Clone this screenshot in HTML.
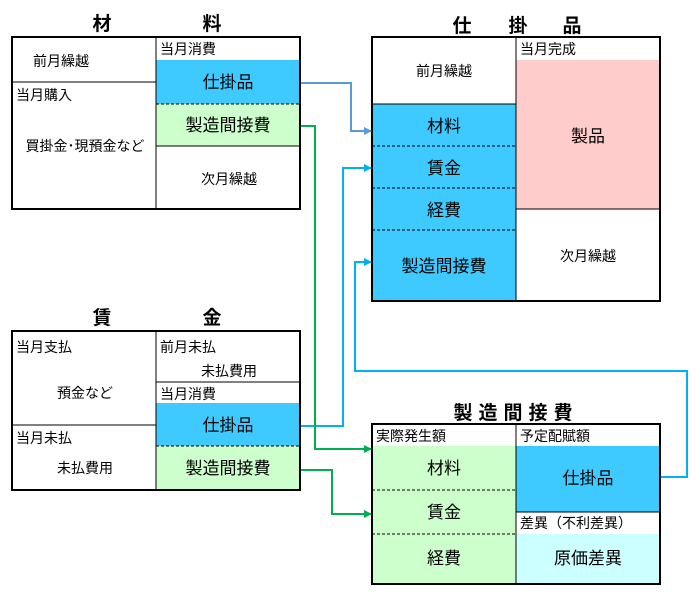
<!DOCTYPE html>
<html><head><meta charset="utf-8"><style>
body{margin:0;background:#fff;}
svg{display:block;}
text{font-family:"Liberation Sans","Noto Sans CJK JP",sans-serif;fill:#000;}
.t{font-size:14px;}
.m{font-size:17px;text-anchor:middle;}
.h{font-size:19px;font-weight:bold;text-anchor:middle;}
</style></head><body>
<svg width="698" height="594" viewBox="0 0 698 594">
<defs>
<marker id="a1" markerWidth="8" markerHeight="8" refX="7" refY="4" orient="auto" markerUnits="userSpaceOnUse"><path d="M0,0 L8,4 L0,8z" fill="#5b9bd5"/></marker>
<marker id="a2" markerWidth="8" markerHeight="8" refX="7" refY="4" orient="auto" markerUnits="userSpaceOnUse"><path d="M0,0 L8,4 L0,8z" fill="#00b0f0"/></marker>
<marker id="a3" markerWidth="8" markerHeight="8" refX="7" refY="4" orient="auto" markerUnits="userSpaceOnUse"><path d="M0,0 L8,4 L0,8z" fill="#00b050"/></marker>
</defs>

<!-- 材料 -->
<text class="h" x="102" y="30">材</text><text class="h" x="212" y="30">料</text>
<rect x="156" y="60" width="144" height="44" fill="#3fcaff"/>
<rect x="156" y="104" width="144" height="42" fill="#ccffcc"/>
<line x1="156" y1="104" x2="300" y2="104" stroke="#000" stroke-dasharray="3,2"/>
<line x1="156" y1="146" x2="300" y2="146" stroke="#000"/>
<line x1="12" y1="82" x2="156" y2="82" stroke="#000"/>
<line x1="156" y1="37" x2="156" y2="209" stroke="#000"/>
<rect x="12" y="37" width="288" height="172" fill="none" stroke="#000" stroke-width="2"/>
<text class="t" x="61" y="66" style="text-anchor:middle">前月繰越</text>
<text class="t" x="16" y="100">当月購入</text>
<text class="t" x="85" y="151" style="text-anchor:middle">買掛金･現預金など</text>
<text class="t" x="160" y="54">当月消費</text>
<text class="m" x="228" y="88">仕掛品</text>
<text class="m" x="228" y="131">製造間接費</text>
<text class="t" x="229" y="184" style="text-anchor:middle">次月繰越</text>

<!-- 仕掛品 -->
<text class="h" x="462" y="32">仕</text><text class="h" x="518" y="32">掛</text><text class="h" x="572" y="32">品</text>
<rect x="372" y="104" width="144" height="197" fill="#3fcaff"/>
<rect x="516" y="60" width="144" height="149" fill="#ffcccc"/>
<line x1="372" y1="104" x2="516" y2="104" stroke="#000"/>
<line x1="372" y1="146" x2="516" y2="146" stroke="#000" stroke-dasharray="3,2"/>
<line x1="372" y1="188" x2="516" y2="188" stroke="#000" stroke-dasharray="3,2"/>
<line x1="372" y1="230" x2="516" y2="230" stroke="#000" stroke-dasharray="3,2"/>
<line x1="516" y1="209" x2="660" y2="209" stroke="#000"/>
<line x1="516" y1="37" x2="516" y2="301" stroke="#000"/>
<rect x="372" y="37" width="288" height="264" fill="none" stroke="#000" stroke-width="2"/>
<text class="t" x="444" y="76" style="text-anchor:middle">前月繰越</text>
<text class="m" x="444" y="132">材料</text>
<text class="m" x="444" y="174">賃金</text>
<text class="m" x="444" y="216">経費</text>
<text class="m" x="444" y="272">製造間接費</text>
<text class="t" x="520" y="54">当月完成</text>
<text class="m" x="588" y="142">製品</text>
<text class="t" x="588" y="261" style="text-anchor:middle">次月繰越</text>

<!-- 賃金 -->
<text class="h" x="102" y="324">賃</text><text class="h" x="212" y="324">金</text>
<rect x="156" y="403" width="144" height="43" fill="#3fcaff"/>
<rect x="156" y="446" width="144" height="44" fill="#ccffcc"/>
<line x1="156" y1="446" x2="300" y2="446" stroke="#000" stroke-dasharray="3,2"/>
<line x1="156" y1="382" x2="300" y2="382" stroke="#000"/>
<line x1="12" y1="425" x2="156" y2="425" stroke="#000"/>
<line x1="156" y1="331" x2="156" y2="490" stroke="#000"/>
<rect x="12" y="331" width="288" height="159" fill="none" stroke="#000" stroke-width="2"/>
<text class="t" x="16" y="352">当月支払</text>
<text class="t" x="85" y="398" style="text-anchor:middle">預金など</text>
<text class="t" x="16" y="443">当月未払</text>
<text class="t" x="85" y="473" style="text-anchor:middle">未払費用</text>
<text class="t" x="160" y="352">前月未払</text>
<text class="t" x="229" y="376" style="text-anchor:middle">未払費用</text>
<text class="t" x="160" y="399">当月消費</text>
<text class="m" x="228" y="431">仕掛品</text>
<text class="m" x="228" y="474">製造間接費</text>

<!-- 製造間接費 -->
<text class="h" x="516" y="419" style="letter-spacing:6px">製造間接費</text>
<rect x="372" y="446" width="144" height="138" fill="#ccffcc"/>
<rect x="516" y="446" width="144" height="66" fill="#3fcaff"/>
<rect x="516" y="534" width="144" height="50" fill="#ccffff"/>
<line x1="372" y1="490" x2="516" y2="490" stroke="#000" stroke-dasharray="3,2"/>
<line x1="372" y1="534" x2="516" y2="534" stroke="#000" stroke-dasharray="3,2"/>
<line x1="516" y1="512" x2="660" y2="512" stroke="#000"/>
<line x1="516" y1="424" x2="516" y2="584" stroke="#000"/>
<rect x="372" y="424" width="288" height="160" fill="none" stroke="#000" stroke-width="2"/>
<text class="t" x="376" y="441">実際発生額</text>
<text class="m" x="444" y="474">材料</text>
<text class="m" x="444" y="518">賃金</text>
<text class="m" x="444" y="564">経費</text>
<text class="t" x="520" y="441">予定配賦額</text>
<text class="m" x="588" y="484">仕掛品</text>
<text class="t" x="520" y="528">差異（不利差異）</text>
<text class="m" x="588" y="564">原価差異</text>

<!-- connectors -->
<polyline points="301,83 351,83 351,131 371,131" fill="none" stroke="#5b9bd5" stroke-width="2" marker-end="url(#a1)"/>
<polyline points="301,426 343,426 343,168 371,168" fill="none" stroke="#00b0f0" stroke-width="2" marker-end="url(#a2)"/>
<polyline points="661,477 687,477 687,371 355,371 355,262 371,262" fill="none" stroke="#00b0f0" stroke-width="2" marker-end="url(#a2)"/>
<polyline points="301,126 315,126 315,449 371,449" fill="none" stroke="#00b050" stroke-width="2" marker-end="url(#a3)"/>
<polyline points="301,470 332,470 332,514 371,514" fill="none" stroke="#00b050" stroke-width="2" marker-end="url(#a3)"/>
</svg>
</body></html>
